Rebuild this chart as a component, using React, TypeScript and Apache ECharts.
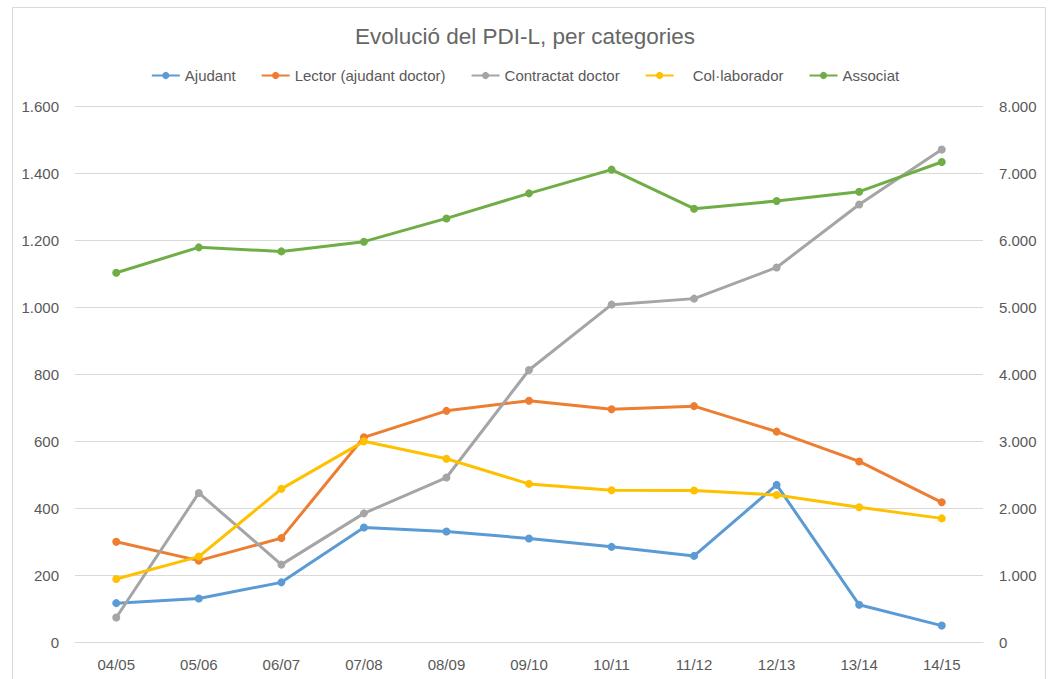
import React, { useEffect, useRef } from "react";
import * as echarts from "echarts";

const categories = ["04/05", "05/06", "06/07", "07/08", "08/09", "09/10", "10/11", "11/12", "12/13", "13/14", "14/15"];
const ajudant = [116, 130, 178, 342, 330, 309, 284, 257, 469, 111, 49];
const lector = [299, 243, 310, 611, 690, 720, 695, 704, 628, 539, 417];
const contractatDoctor = [73, 445, 231, 384, 491, 812, 1007, 1025, 1118, 1306, 1470];
const collaborador = [188, 255, 457, 599, 547, 472, 453, 452, 439, 402, 369];
const associat = [5512, 5890, 5830, 5975, 6322, 6696, 7050, 6467, 6582, 6721, 7164];

const seriesNames = ["Ajudant", "Lector (ajudant doctor)", "Contractat doctor", "Col·laborador", "Associat"];
const seriesColors = ["#5B9BD5", "#ED7D31", "#A5A5A5", "#FFC000", "#70AD47"];

const FONT = "'Liberation Sans', Arial, sans-serif";
const fmt = (v: number) => String(v).replace(/\B(?=(\d{3})+(?!\d))/g, ".");

export default function App() {
  const ref = useRef<HTMLDivElement>(null);
  useEffect(() => {
    if (!ref.current) return;
    const chart = echarts.init(ref.current, null, { renderer: "svg" });
    const dataSets = [ajudant, lector, contractatDoctor, collaborador, associat];
    chart.setOption({
      animation: false,
      backgroundColor: "#ffffff",
      title: {
        text: "Evolució del PDI-L, per categories",
        left: "center",
        top: 25,
        padding: 0,
        textStyle: { fontFamily: FONT, fontSize: 22.5, fontWeight: "normal", color: "#666666" },
      },
      legend: {
        top: 63,
        left: "center",
        itemWidth: 28,
        itemHeight: 9,
        itemGap: 25,
        textStyle: { fontFamily: FONT, fontSize: 15, color: "#595959" },
        data: seriesNames.map((n, i) =>
          i === 3 ? { name: n, textStyle: { padding: [0, 0, 0, 14] } } : { name: n }
        ),
      },
      graphic: [
        {
          type: "rect",
          shape: { x: 12.5, y: 7.5, width: 1033, height: 700 },
          style: { fill: "none", stroke: "#D9D9D9", lineWidth: 1 },
          silent: true,
        },
      ],
      grid: { left: 75, right: 67, top: 106, bottom: 37, containLabel: false },
      xAxis: {
        type: "category",
        data: categories,
        boundaryGap: true,
        axisLine: { lineStyle: { color: "#D9D9D9", width: 1 } },
        axisTick: { show: false },
        axisLabel: { fontFamily: FONT, fontSize: 15, color: "#595959", margin: 15 },
      },
      yAxis: [
        {
          type: "value",
          min: 0,
          max: 1600,
          interval: 200,
          axisLine: { show: false },
          axisTick: { show: false },
          splitLine: { lineStyle: { color: "#D9D9D9", width: 1 } },
          axisLabel: { fontFamily: FONT, fontSize: 15, color: "#595959", margin: 16, formatter: fmt },
        },
        {
          type: "value",
          min: 0,
          max: 8000,
          interval: 1000,
          axisLine: { show: false },
          axisTick: { show: false },
          splitLine: { show: false },
          axisLabel: { fontFamily: FONT, fontSize: 15, color: "#595959", margin: 16, formatter: fmt },
        },
      ],
      series: seriesNames.map((name, i) => ({
        name,
        type: "line",
        yAxisIndex: i === 4 ? 1 : 0,
        data: dataSets[i],
        symbol: "circle",
        symbolSize: 8,
        color: seriesColors[i],
        lineStyle: { width: 3, color: seriesColors[i] },
        itemStyle: { color: seriesColors[i] },
        z: 2 + i,
      })),
    });
    return () => chart.dispose();
  }, []);
  return (
    <div
      ref={ref}
      style={{ position: "absolute", left: 0, top: 0, width: 1050, height: 679 }}
    />
  );
}
